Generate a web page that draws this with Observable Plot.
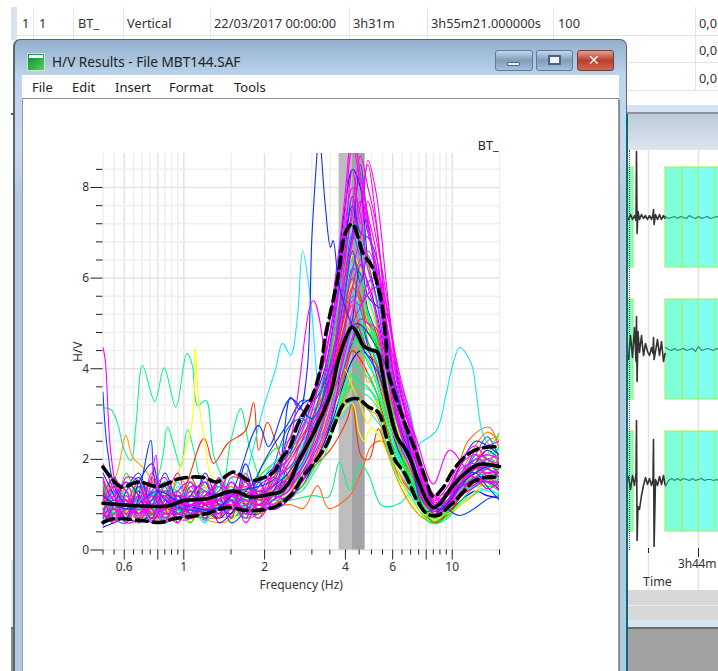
<!DOCTYPE html>
<html><head><meta charset="utf-8">
<script src="https://cdn.jsdelivr.net/npm/d3@7"></script>
<script src="https://cdn.jsdelivr.net/npm/@observablehq/plot@0.6"></script>
<style>
html,body{margin:0;padding:0;background:#fff;width:718px;height:671px;overflow:hidden;font-family:"Noto Sans",sans-serif;color:#222}
#page{position:relative;width:718px;height:671px;overflow:hidden}
.b{position:absolute;box-sizing:border-box}
.t{position:absolute;white-space:nowrap;font-size:12.8px;line-height:16px;color:#333}
svg{position:absolute;left:0;top:0;background:transparent}
</style></head><body><div id="page"></div>
<script>
// ---------- H/V chart data (frequency in Hz, H/V ratio) ----------
const gridF=[.5,.55,.61,.68,.76,.85,.95,1.06,1.2,1.35,1.5,1.7,1.9,2.15,2.45,2.75,3.05,3.35,3.65,3.95,4.25,4.55,4.85,5.2,5.7,6.3,7,7.8,8.6,9.6,10.8,12.2,13.5,15];
const violetA=[.9,1.3,.8,1,.7,.9,.9,1,.8,.9,1.1,.9,.8,1.2,1.4,1.7,2.2,2.7,3.4,4,4.6,5,4.5,3.9,3,2.2,1.7,1.05,.8,.9,1.25,1.45,1.65,1.55];
const violetB=[.55,1,1.5,1.2,.7,1.4,.6,1.2,1.5,.6,.8,1.3,1.5,.9,1.1,1.5,1.9,2.4,3.2,4.4,5.1,6.3,5.9,5.3,4.1,2.8,2.1,1.3,.85,1,1.4,1.5,1.5,1.35];
const blueA=[1.2,1.6,.9,1.4,.8,.9,.9,1.5,1,.9,1.3,1,1.5,1.8,2.1,2.8,3.4,4.5,5.7,7.4,8.4,8,6.4,5.6,4.3,2.9,2,1.3,.85,1.1,1.5,1.9,2.2,2];
const blueB=[.7,.8,1.1,.9,1.3,.7,1,.9,.8,1.2,1,1.3,1.1,1.3,1.6,1.9,2.6,3.1,3.9,5.2,6.2,6.1,5.3,4.8,3.7,2.5,1.9,1.1,.8,.9,1.3,1.6,1.6,1.3];
const blueC=[1,1.3,1.4,1.7,1,1.2,.8,1.1,1.3,1,.8,1.6,1,1.1,1.9,2.4,2.7,3.6,4.8,6,7,8.5,7.2,6.1,4.7,3.4,2.3,1.4,1,1.3,1.7,2,1.9,1.7];
const blueD=[.5,.6,.7,.6,.8,.9,.7,.8,.9,.7,.9,.8,.8,1,1.2,1.4,1.9,2.4,3,3.7,4.2,4.4,4.3,4.1,3.2,2.2,1.6,.95,.7,.8,1.1,1.3,1.2,1.15];
const blueE=[.9,1.1,1,.8,1.1,1.5,1.1,1,1.2,1.4,1.1,.9,1.2,1.4,1.7,2.2,3,3.8,5,6.4,7.8,7,6.9,6.5,4.9,3.2,2.1,1.2,.8,1.1,1.4,1.8,1.8,1.6];
const blueG=[1.7,1.2,.7,1.5,1.9,.9,1.2,.8,1.7,1,.8,1.9,1.2,1.3,2.6,3.2,3.4,4,5.2,6.8,7.6,6.6,5.6,5.4,5.2,3.7,2.6,1.6,1,1.3,1.9,2.4,2.3,2.1];
const blueH=[.8,.6,1.3,1.6,1,1.7,1,.7,1.2,1.2,.6,.9,1.7,2.3,2.8,3.3,3.3,3.7,4.5,5.5,6.6,5.9,6.5,5.9,4.7,3.3,2.4,1.4,.9,1,1.6,1.7,1.4,1.1];
const azureA=[.8,.7,.9,1.1,.7,1,1.2,.8,1,1,1.2,1.1,1,1.2,1.5,1.9,2.5,3.2,4.1,4.8,5.6,5.3,4.6,4.2,3.3,2.6,2,1.2,.9,1,1.6,1.7,2,1.9];
const azureB=[1.6,.7,.6,1.4,1.2,.6,.9,1.4,.7,1.5,.7,1.6,.8,1.8,2.7,2.9,2.7,3.2,4.4,5.8,7,6.5,7.2,5.9,4.5,3.2,2.4,1.5,1,1.1,1.7,2.1,2.5,2];
const cyanA=[1.1,.8,1.3,1,1.2,.9,1.1,1.2,.9,1.3,1.4,1,1.1,1.3,1.4,1.8,2.4,3,3.8,4.6,5,4.8,4.3,3.9,3,2.2,1.7,1,.75,.9,1.3,1.6,1.7,1.6];
const cyanB=[.9,1,.7,1.2,.8,1.1,.9,1.3,1.1,.8,1,1.2,.9,1.1,1.3,1.6,2.2,2.7,3.4,4.2,4.9,5.6,5.2,4.6,3.5,2.5,1.8,1.3,.95,1.1,1.5,1.7,1.8,2];
const cyanC=[1.4,1.2,1,.9,1,.7,1,.9,1.2,1.1,.9,1.3,1.2,1.5,1.7,2.3,2.9,3.5,4.4,5.4,6.3,6,5.6,5,3.8,2.7,2.1,1.3,.9,1.2,1.6,2,2.1,2.2];
const cyanD=[.6,1.3,1.1,.7,1.4,1.1,1.5,.7,1.3,.8,1.6,.8,1.4,1.9,2.2,2.6,3.2,3.9,5,6.3,7.2,6.9,6.2,5.5,4.4,3,2.2,1.4,.9,1.1,1.6,2.1,1.8,1.5];
const cyanE=[1.3,.7,.9,1.4,1.3,.6,1.4,1,.6,1.2,1.5,1.1,.8,1.2,2,2.7,3.1,3.6,4.6,5.1,5.7,5.2,4.4,4.3,3.1,2,1.3,.85,.62,.85,1.25,1.4,1.3,1.25];
const greenA=[.8,1,1.1,.7,.8,1.1,.7,.9,.8,1,1.2,.9,1.1,1,1.2,1.7,2.2,2.8,3.3,3.9,4.5,4.9,4.6,4.1,3.1,2.1,1.5,.9,.65,.8,1.2,1.5,1.4,1.5];
const greenB=[1.2,.7,.8,1.1,.7,.8,1.2,1,.9,.9,1,1,1.3,1.2,1.4,1.8,2.3,2.9,3.6,4.3,4.8,4.4,4.2,3.7,2.8,2,1.6,1,.7,.9,1.2,1.7,1.9,2.3];
const greenC=[.6,.9,.9,.8,1,.6,.8,1.1,1,.8,.9,.7,.9,1.1,1.1,1.4,1.8,2.3,2.9,3.4,3.9,3.7,3.6,3.3,2.6,1.9,1.4,.85,.6,.75,1.1,1.4,1.5,1.4];
const greenD=[1,1.1,1,1,.9,.9,1,.8,1.4,1.2,1.2,1.1,.8,1.5,1.6,2,2.5,3.1,3.8,4.4,5.2,5,4.9,4.4,3.4,2.3,1.7,1,.75,1,1.4,1.9,2,1.7];
const greenE=[1.5,.8,1.7,1,.7,1.5,.7,1.5,.8,1.6,.9,1.2,1.7,2.2,2.4,3,3.1,3.7,4.8,5.9,6.4,6,5.2,4.7,3.9,2.4,1.5,.9,.62,.85,1.3,1.7,2.1,2.6];
const greenF=[1.4,1.1,1.2,.6,1.1,1.5,.9,.6,1.5,1.1,.7,1,1.6,1.9,2.1,2.3,2.6,3,3.7,4.6,5.1,4.7,4.8,4.6,3.5,2.9,2.3,1.5,.95,1,1.5,1.8,1.5,1.3];
const springA=[.9,.8,.9,1.3,.9,1.2,.9,.7,1.1,1.1,.9,1.2,1.1,1.2,1.3,1.7,2.1,2.6,3.1,3.6,4.1,4,3.9,3.5,2.9,2.2,1.6,1,.7,.85,1.3,1.6,1.7,1.6];
const springB=[1.3,1,.7,.9,1.1,.8,.9,1.2,.8,1,1.1,.9,1,1.3,1.5,1.8,2.4,3,3.5,4.1,4.6,4.5,4.1,3.8,2.9,2.1,1.6,.95,.7,.95,1.35,1.55,1.85,1.75];
const springC=[1.1,.6,1.4,1.3,.6,1.3,1.3,.9,.7,1.4,1.3,.7,1.5,1.7,1.8,2.2,2.8,3.4,4.3,5.4,6.1,5.5,5.1,4.5,3.4,2.5,2.1,1.2,.8,.95,1.5,1.6,1.9,2.3];
const springD=[.7,1.3,1,1.3,.7,1.5,.7,1.3,.6,1.4,1.2,.7,1.3,1.1,1.2,1.3,1.7,2.1,2.8,3.5,3.9,3.5,3.4,3.2,2.3,1.6,1.2,.75,.58,.7,1.05,1.25,1.35,1.2];
const yellowA=[1,.7,1,.9,.7,1,1.1,.9,1,1.2,1.4,1,1.1,1.4,1.8,2.1,2.7,3.4,4.2,5,5.9,5.2,4.7,4,3.3,2.4,1.5,.9,.65,.9,1.3,1.5,1.6,1.9];
const yellowB=[.7,.8,.8,1,1,.9,.7,1,.9,.9,.8,1.1,1,1,1.3,1.6,2,2.6,3.3,4,3.6,3.2,2.8,3.3,2.4,1.7,1.1,.8,.7,.8,1,1.3,1.5,1.6];
const yellowC=[.9,1.5,.9,.6,1.5,1,.6,1.2,1.4,1.3,.6,1.4,1.1,1.5,1.9,2.6,3.3,3.9,4.7,5.6,6.5,6.2,5.5,4.9,3.7,2.6,1.9,1.3,.95,1,1.3,1.8,1.7,2.2];
const orangeA=[1,.9,1.4,1.1,.9,.8,1,1.1,1.2,.9,1.3,1.4,1.2,1.1,1.5,2,2.6,3.4,4.4,5.3,6.6,6,5.1,4.5,3.6,2.7,2,1.2,.85,1,1.5,1.9,2.4,2.5];
const orangeB=[.8,1.2,.8,.8,1.2,1,.8,.9,.7,1.1,1,.8,1.3,1.4,1.3,1.6,2.3,2.8,3.5,4.3,5,4.6,3.7,3.9,3,2.3,1.8,1.1,.75,.9,1.2,1.6,1.8,1.8];
const orangeC=[1.3,1.5,.6,1.6,.8,.6,1.6,1.3,.7,1.1,1.4,1,.7,1.6,2,2.5,3,3.7,4.9,6,7.3,7,6.4,5.1,4,2.9,2.3,1.4,1,1.2,1.7,2.3,2.6,2.4];
const orangeD=[1,1.6,1.1,.65,1.2,.9,1.5,.6,1.3,.7,1.1,.7,.8,1.2,1.4,1.4,1.8,2.2,2.7,3.3,3.7,3.4,3.1,3,2.2,1.5,1,.7,.6,.75,1,1.25,1.6,1.5];
const redA=[.9,.9,1.1,.9,1.1,1.3,.8,1,1.1,1,1.2,1.3,1,1.2,1.6,2.1,2.7,3.2,4,4.9,5.4,4.8,4.4,4.1,3.2,2.3,1.7,1.1,.8,1,1.4,1.7,1.7,1.6];
const redB=[1.1,1,.9,1.2,.8,1,1,.8,1.1,1.1,1.1,1.1,1.1,1,1.2,1.6,2,2.5,3.2,3.8,4.4,4.2,3.9,3.5,2.7,1.9,1.4,.85,.65,.8,1.2,1.5,1.6,1.7];
const redC=[.8,1.4,1.3,.7,1.6,.7,1,1.6,.9,.7,1.6,1.5,.9,1.3,1.7,2.4,2.9,3.3,4.1,5.2,6,5.6,4.8,4.6,3.5,2.4,1.5,.85,.6,.8,1.2,1.9,2.2,1.9];
const redD=[1.4,.6,1,1.5,.8,1.2,1.2,.7,.9,1.6,.9,1.5,.8,1.7,2.2,2.5,3,3.5,4.3,5.1,5.8,5.5,5,4.8,3.6,2.8,2.2,1.5,1.05,1.2,1.6,2.1,2,1.8];
const magentaA=[1.5,1.1,1,1.3,1,.9,1.1,1,1.2,1.5,1.2,1.1,1,1.4,1.9,2.4,3.2,4.4,5.9,7.6,9.2,8.3,7.4,6.6,4.6,3,2.1,1.3,.95,1.2,1.6,2,2.1,2];
const magentaB=[.8,.7,.9,.8,1.1,1.2,.9,1.2,1,1.1,1.5,1.2,1.3,1.2,1.6,2,2.6,3.5,4.6,6.2,7.6,8.7,8,7.2,5,3.2,2.2,1.2,.85,1.1,1.5,1.7,1.9,1.8];
const magentaC=[1.1,1.4,.8,.9,.8,1,1.3,.9,1.1,.9,1.2,1.4,1.1,1.5,1.8,2.2,2.9,3.9,5.1,6.6,8.4,7.2,8.6,7.9,5.8,3.5,2.4,1.4,1,1.3,1.9,2.1,1.8,1.7];
const magentaD=[.6,.8,.7,1,.7,.8,.8,.9,.9,1,1,.9,.9,1.1,1.3,1.8,2.3,3,3.9,4.9,5.8,6.4,5.8,5.2,3.9,2.7,2,1.2,.9,1,1.4,1.5,1.7,1.7];
const magentaE=[.9,.6,1.2,.7,.9,.7,1,.8,1.3,.8,.9,1,1.2,1,1.4,1.7,2,2.7,3.5,4.4,5.3,5.9,6.6,6.2,4.4,3.1,2.3,1.5,1.1,1.2,1.7,1.9,2,2.1];
const magentaF=[1.3,.9,.7,1,.6,1.1,.7,1,.8,1.2,1.3,.8,1.4,1.6,1.5,2.1,2.8,3.3,4.3,5.6,6.9,7.7,7,6.3,4.2,2.8,1.9,1.1,.8,.95,1.3,1.6,1.5,1.5];
const magentaG=[.7,1,.6,.7,1.2,.8,.8,.7,1,1.1,.9,1.1,.9,1.2,1.1,1.5,2.1,2.6,3.3,4,4.7,5.1,5,4.9,3.6,2.4,1.8,1.1,.8,.9,1.2,1.4,1.6,1.4];
const magentaH=[1,1.2,1.5,.8,1,1.3,1,1.3,1.1,1.3,1.7,1.5,1.2,1.7,2,2.6,3.4,4.2,5.4,7,8,7.4,6.2,5.6,4.1,2.9,2.2,1.6,1.2,1,1.4,1.6,1.8,1.9];
const magentaI=[.8,.9,.8,1.2,.9,.6,1.2,1.1,.9,.8,1.1,.8,1,.9,1.2,1.6,2.2,2.9,3.7,4.7,5.5,5.4,5.9,6,5,3.3,2.5,1.5,.9,1.05,1.5,1.8,1.7,1.8];
const magentaJ=[1.9,1.3,.6,1.1,1.5,.65,1.3,1.5,.65,1.6,1.1,.7,1.6,1.6,2.4,3,3.5,4.2,5.5,7.2,8.9,8.1,7.1,6.3,5.4,3.8,2.7,1.7,1.1,1.4,2,2.3,2,1.9];
const magentaK=[.7,1.5,1.3,.6,1.3,1.6,.7,.7,1.6,.7,1.5,1,.7,1.1,1.3,2.1,2.6,3.2,4.2,5.3,6.2,6.9,7.7,6.9,5.6,3.9,2.8,1.8,1.2,1.3,1.8,1.9,1.6,1.3];
const magentaL=[1.2,.65,1.6,1.5,.65,1.1,1.7,.8,1,1.5,.7,1.7,1,1.3,1.5,1.8,2.4,3.3,4.5,5.9,6.8,7.6,8.5,7.3,5.3,4,2.9,1.6,1.05,1.1,1.6,1.6,1.35,1.5];
const magentaM=[1.6,1.1,1.1,.8,1.7,.9,.6,1.4,1.3,.8,1.3,.6,1.2,1.8,2.2,2.7,3.3,4.3,5.3,6.4,7.4,8.2,7.3,6.1,5,3.6,2.6,1.7,1.15,1.2,1.5,2.2,2.3,2.4];

// Window curves that stand out from the bundle, each read at its own frequencies
const cyanPeakF=[.5,.6,.75,.9,1.1,1.4,1.63,1.77,1.98,2.2,2.33,2.5,2.65,2.77,2.97,3.17,3.37,3.83,4.4,5,5.6,6.5,7.5,8.6,10,12,15];
const cyanPeakV=[.9,1.1,.85,1,1.15,1,1.3,2,3.14,4,4.56,4.3,5.14,6.6,5.5,3.6,3,2.9,3.4,3,2.6,1.9,1.2,.85,1.2,1.8,1.7];
const bluePeakF=[.5,.62,.8,1,1.3,1.6,1.9,2.2,2.5,2.7,2.88,3,3.14,3.2,3.25,3.37,3.52,3.6,3.8,4.2,4.7,5.3,6,7,8,9,11,13,15];
const bluePeakV=[1.2,.9,1.3,1,.9,1.3,1.4,1.6,3.37,3.1,3.96,6.9,8.8,9.5,8.8,7.57,6.68,6.83,5.8,5,4.4,3.9,2.8,1.9,1.1,.9,1.5,1.8,1.9];
const cyanHumpF=[.5,.7,.95,1.3,1.8,2.4,3,3.6,4.2,4.8,5.4,6.19,6.85,7.47,7.58,8.74,9.5,10.06,10.66,11.8,12.3,13,14.2,15];
const cyanHumpV=[1,.8,1.1,1,1.2,1.3,2.3,3.6,4.6,4.8,4.6,3.8,3.23,2.28,2.35,2.64,3.45,4.1,4.47,4.1,3.45,2.57,2.2,2.1];
const springLowF=[.5,.535,.567,.6,.636,.664,.702,.78,.845,.934,1.026,1.077,1.09,1.125,1.21,1.31,1.63,2,2.5,3,3.6,4.2,5,6,7.5,8.6,10,12,15];
const springLowV=[3.14,3.1,2.79,2.2,1.97,2.79,4.07,3.28,4.02,3.15,4.34,4.07,3.74,3.19,3.3,1.97,1.1,1.2,1.5,2.3,3.4,3.6,3.5,2.2,1,.7,1.1,1.6,1.5];
const springRightF=[.5,.7,1,1.4,2,2.5,3.04,3.46,3.8,4.15,4.54,4.9,5.47,6.39,7,7.6,8.25,9,10,11.5,13,15];
const springRightV=[.9,.7,.8,.9,1,1.1,1.2,1.17,1.94,1.31,1.9,1.64,.98,1.03,1.25,.95,.6,.65,1,1.5,1.6,1.5];
const orangeLowF=[.5,.8,1.2,1.7,2.2,2.5,2.79,3.15,3.46,4.15,4.6,5,5.5,6.2,7.2,8.2,9.5,11.5,13.75,15];
const orangeLowV=[.8,.9,.7,.8,.95,1,.92,1.42,.92,1.2,1.75,2.3,2.4,1.8,1.2,.7,1,2.42,2.71,2.2];
const redMidF=[.5,.9,1.19,1.29,1.457,1.7,1.82,1.9,2.05,2.23,2.6,3,3.5,4.05,4.24,4.6,4.9,5.3,5.7,6.4,7.4,8.2,10,13,15];
const redMidV=[.8,.9,2.46,1.91,2.35,2.64,3.26,2.2,2.82,2.27,1.4,1.8,2.2,2.86,3.23,2.05,2,2.68,2.2,1.6,1.1,.75,1.1,1.5,1.7];
const yellowSpikeF=[.5,.8,1.06,1.1,1.136,1.19,1.3,1.7,2.2,3,3.7,4.24,4.5,4.7,5,5.8,6.8,8,9.5,12,15];
const yellowSpikeV=[.8,1,2.64,4.47,3.3,2.49,1.5,1.1,1.3,1.9,2.9,3.23,2.6,2.4,2.7,2.1,1.1,.7,.95,1.6,2];
const magentaLeftF=[.5,.51,.535,.57,.65,.73,.787,.83,1,1.5,2.2,3.04,3.6,4.4,5.2,6,7.2,8.49,9.79,12,15];
const magentaLeftV=[4.47,4.18,2.13,1.3,1,1.2,2.09,1.2,1,1.2,1.5,5.5,3.6,5.2,5.8,3.5,2.6,1.46,2.2,1.6,1.5];
const blueLeftF=[.5,.52,.56,.65,.7,.754,.8,1,1.4,1.9,2.07,2.5,3,3.6,4.4,5.2,6.4,8,9,10.66,13.75,15];
const blueLeftV=[3.48,2.2,1.3,.9,1.6,2.42,1.3,.9,1,2.75,2.28,3.34,2.9,4,5,4.5,3.2,.85,1,.76,1.14,1.2];
const springMidF=[.5,.7,.82,.87,.918,.975,1.03,1.09,1.156,1.35,1.495,1.63,1.77,2.1,2.6,3.1,3.8,4.6,5.5,7,8.5,11,15];
const springMidV=[1,.9,1.83,2.71,2.3,1.83,2.66,2.2,1.55,1.1,2.4,3.12,2.2,1.2,1.4,2.2,3.1,3.9,3.2,1.6,.75,1.4,1.7];
const orangeLeftF=[.5,.564,.608,.645,.71,.9,1.4,1.5,2,3,4,5,6.5,8.5,11,15];
const orangeLeftV=[1.1,1.7,2.53,2.05,1.8,1,.6,.7,1.1,2.4,4.3,4.4,2.3,.7,1.6,2];

// Statistics curves: mean and mean plus or minus one standard deviation
const meanF=[.5,.583,.71,.872,1,1.217,1.534,1.773,2.16,2.29,2.5,2.65,3.04,3.52,3.73,3.99,4.24,4.46,4.66,4.95,5.25,5.47,5.71,6.24,6.8,7.4,8.05,8.49,8.99,10.06,11.3,12.63,15];
const meanV=[1.03,1,.97,.97,1.09,1.13,1.3,1.17,1.25,1.28,1.55,1.91,2.57,3.45,4.1,4.65,4.92,4.75,4.51,4.42,4.37,3.96,3.37,2.49,2.16,1.6,1.09,.94,1.02,1.42,1.72,1.89,1.84];
const upperF=[.5,.535,.583,.68,.8,.97,1.19,1.32,1.534,1.77,2.16,2.29,2.5,2.65,2.97,3.23,3.37,3.6,3.79,3.99,4.24,4.46,4.66,5,5.25,5.47,5.67,5.76,6.6,7.25,7.9,8.49,9.2,10.06,11.3,12.63,15];
const upperV=[1.83,1.6,1.39,1.5,1.4,1.58,1.6,1.5,1.72,1.53,1.72,1.98,2.3,2.75,3.3,4,4.73,5.5,6.17,6.98,7.2,6.9,6.54,6.28,5.88,5.44,4.56,3.96,2.86,2.24,1.62,1.18,1.36,1.75,2.09,2.24,2.28];
const lowerF=[.5,.55,.692,.82,.918,1.089,1.26,1.457,1.73,2.16,2.5,2.79,3.04,3.42,3.67,3.99,4.42,4.9,5.3,5.71,6.13,6.67,7.4,8.05,8.8,9.79,10.9,11.9,13.3,15];
const lowerV=[.61,.69,.65,.61,.69,.75,.83,.94,.87,.94,1.2,1.64,1.9,2.35,2.82,3.26,3.34,3.15,3.04,2.46,1.98,1.68,1.09,.8,.76,.98,1.25,1.5,1.6,1.6];

// Selected peak frequency: lower bound, average, upper bound
const peakBand=[3.79,4.25,4.74];

// Axis ticks
const xMajor=[.6,.8,1,2,4,6,8,10];
const xMinor=[.5,.55,.65,.7,.75,.85,.9,.95,1.5,2.5,3,3.5,4.5,5,5.5,6.5,7,7.5,8.5,9,9.5,15];
const yMajor=[0,2,4,6,8];
const yMinor=[.4,.8,1.2,1.6,2.4,2.8,3.2,3.6,4.4,4.8,5.2,5.6,6.4,6.8,7.2,7.6,8.4];

// Background signal viewer: time in viewer units, amplitude about each channel centre
const channelCentre=[217,349,481];
const windowStart=[628,665,682,698,715];
const windowEnd=[633,682,698,715,730];
const windowFill=["#7fffc8","#7fffd8","#7fffe8","#7ffff0","#7ffff0"];
const traceT=[628,630,632,634,635.5,636,636.6,637.5,639,641,643,645,647,649,651,652.5,653,653.6,655,657,659,661,663,664.5];
const traceA=[-2,3,-2,2,-3,66,-16,6,-2,3,-1,2,-2,2,-2,3,8,-7,3,-2,3,-2,2,-1];
const traceB=[-10,14,-8,22,-12,33,-32,18,-3,14,-6,6,-2,-6,2,-4,12,-10,-2,10,-6,8,-12,-4];
const traceC=[5,-8,6,-4,8,61,-59,-25,-28,-14,-4,4,-3,3,-4,2,42,-65,2,-4,5,-3,6,-3];
const quietT=[665,668,671,674,677,680,683,686,689,692,695,698,701,704,707,710,713,716,718];
const quietA=[1,-1,0,1,-1,1,0,-1,2,0,-1,1,-1,0,1,-1,0,1,0];
const quietB=[2,0,-1,1,-1,0,1,-1,0,1,-2,3,-1,0,1,0,-1,1,0];
const quietC=[-5,1,3,1,3,1,3,2,1,3,1,2,3,1,2,2,1,2,1];

// ---------- page furniture ----------
const page=document.getElementById("page");
function box(x,y,w,h,bg,extra){const d=document.createElement("div");d.className="b";d.style.cssText=`left:${x}px;top:${y}px;width:${w}px;height:${h}px;background:${bg};${extra||""}`;page.appendChild(d);return d}
function txt(x,y,s,extra){const d=document.createElement("div");d.className="t";d.textContent=s;d.style.cssText=`left:${x}px;top:${y-8}px;${extra||""}`;page.appendChild(d);return d}

// table behind the window
box(11,7,6,33,"#d8e2ee");
[33,73,123,210,349,427,553,695].forEach(x=>box(x,7,1,84,"#e6e6e6"));
[35,62,90].forEach(y=>box(17,y,701,1,"#e3e3e3"));
[["1",22],["1",39],["BT_",78],["Vertical",127],["22/03/2017 00:00:00",214],["3h31m",353],["3h55m21.000000s",431],["100",558],["0,0",699]].forEach(([s,x])=>txt(x,22.5,s));
txt(699,49.5,"0,0");txt(699,77.5,"0,0");
box(11,113,3,2,"#555");box(11,627,3,44,"#8a8a8a");box(11,627,3,2,"#666");box(11,560,2,67,"#dfe9f3");

// signal viewer panel on the right
box(627,105,91,8,"#d3e3f2");box(627,112,91,2,"#8b9197");
box(627,114,91,36,"#ccd","background:linear-gradient(#bccbd9,#dbe6ef)");
box(627,590,91,30,"#d8d8d8");box(627,605,91,1,"#eeeeee");box(627,620,91,7,"#d7e4f1");box(627,627,91,44,"#a2a2a2");box(627,627,91,2,"#6f6f6f");

// window frame
box(13,39,614,640,"#b3cbe3","border:2px solid #5f6469;border-width:1px 1px 0 2px;border-radius:7px 7px 0 0;background:linear-gradient(#93b0cd 0,#bcd4ec 36px,#c6daec 110px,#b2cbe4 155px)");
box(22,75,597,600,"#fff");
box(22,98,597,1,"#8a8f94");box(22,98,1,580,"#9a9ea2");box(618,98,1,580,"#9a9ea2");
box(619,100,1,571,"#7f8388");
box(626,114,2,557,"#0a6a75");
box(27,53,18,18,"#1f9a3a","border:1px solid #c8e6c8;background:linear-gradient(135deg,#0e8a30,#52cf60)");
box(29,55,14,3,"#ffffff");
txt(52,62,"H/V Results - File MBT144.SAF","font-size:13.6px;color:#222");
box(495,50,38,21,"","border:1px solid #5d7a99;border-radius:3px;background:linear-gradient(#c5d7ea,#7f9dbd 50%,#a6c0da)");
box(536,50,37,21,"","border:1px solid #5d7a99;border-radius:3px;background:linear-gradient(#c5d7ea,#7f9dbd 50%,#a6c0da)");
box(577,50,37,21,"","border:1px solid #7a3b33;border-radius:3px;background:linear-gradient(#e3a090,#b8402d 50%,#cf6a50)");
box(507,62,13,4,"#eef2f6","border:1px solid #4e6379;border-radius:1px");
box(548,55,13,10,"#eef2f6","border:2px solid #4e6379;border-radius:1px");
txt(588,60,"✕","font:bold 14px 'DejaVu Sans';color:#f4f4f4");
[["File",32],["Edit",72],["Insert",115],["Format",169],["Tools",234]].forEach(([s,x])=>txt(x,87,s,"font-size:13px;color:#222"));

// ---------- signal viewer drawn with Plot ----------
const rows=(xs,ys,c)=>xs.map((x,i)=>({x,y:channelCentre[c]-ys[i]}));
const viewer=Plot.plot({width:90,height:440,margin:0,marginLeft:0,x:{domain:[628,718],axis:null},y:{domain:[590,150],axis:null},
 marks:[
  Plot.ruleX([648,698],{stroke:"#e4e4e4",strokeWidth:1.5}),
  Plot.rect(channelCentre.flatMap(c=>windowStart.map((s,i)=>({x1:s,x2:windowEnd[i],y1:c-50,y2:c+50,f:windowFill[i]}))),{x1:"x1",x2:"x2",y1:"y1",y2:"y2",fill:"f",stroke:"#a4f27c",strokeWidth:1.3}),
  Plot.ruleX([648],{y1:548,y2:553,stroke:"#222"}),
  Plot.ruleX([698],{y1:548,y2:557,stroke:"#222"}),
  ...[traceA,traceB,traceC].map((a,c)=>Plot.line(rows(traceT,a,c),{x:"x",y:"y",stroke:"#333",strokeWidth:1.6})),
  ...[quietA,quietB,quietC].map((a,c)=>Plot.line(rows(quietT,a,c),{x:"x",y:"y",stroke:"#2a8c70",strokeWidth:1.2}))
 ]});
viewer.style.left="628px";viewer.style.top="150px";page.appendChild(viewer);
box(629,150,0,400,"none","border-left:1.5px dotted #2f3fff");
txt(678,564,"3h44m","font-size:12px;letter-spacing:-.2px;");txt(643,582,"Time","font-size:12.5px;");

// ---------- the H/V chart ----------
const bundle=[[blueD,"#0000ff"],[greenA,"#00ff00"],[orangeA,"#ff8000"],[cyanA,"#00ffff"],[redB,"#ff2000"],[springA,"#00ff80"],[orangeD,"#ff9000"],[blueB,"#2040ff"],[yellowA,"#ffff00"],[springD,"#00ff90"],[greenB,"#20ff20"],[azureA,"#0090ff"],[violetA,"#8000ff"],[cyanE,"#00ffff"],[cyanB,"#00e0ff"],[orangeB,"#ffa000"],[greenC,"#00ff40"],[redC,"#ff2000"],[blueA,"#0020ff"],[redA,"#ff3000"],[yellowB,"#ffee00"],[greenF,"#00ff00"],[springB,"#00ffa0"],[blueC,"#3030ff"],[greenD,"#40ff00"],[yellowC,"#ffff00"],[cyanC,"#00ffff"],[orangeC,"#ff8000"],[blueE,"#1040ff"],[springC,"#00ff70"],[azureB,"#0080ff"],[redD,"#ff4000"],[greenE,"#00ff20"],[cyanD,"#00f0ff"],[violetB,"#7000ff"],[blueG,"#2020ff"],[blueH,"#0040ff"],
 [magentaG,"#ff00ff"],[magentaD,"#ff00e0"],[magentaE,"#ff20ff"],[magentaI,"#ff00ff"],[magentaF,"#e000ff"],[magentaK,"#ff00ff"],[magentaH,"#ff00ff"],[magentaB,"#ff00e0"],[magentaM,"#ff00ff"],[magentaL,"#ff00f0"],[magentaA,"#ff00ff"],[magentaJ,"#ff00ff"],[magentaC,"#ff00ff"]];
const singles=[[springLowF,springLowV,"#10f0a0"],[springMidF,springMidV,"#00ff80"],[orangeLeftF,orangeLeftV,"#ffa000"],[orangeLowF,orangeLowV,"#ff6a10"],[redMidF,redMidV,"#ff3000"],[yellowSpikeF,yellowSpikeV,"#ffff00"],[cyanPeakF,cyanPeakV,"#10e8ff"],[cyanHumpF,cyanHumpV,"#20e0ff"],[springRightF,springRightV,"#10f090"],[blueLeftF,blueLeftV,"#1040ff"],[bluePeakF,bluePeakV,"#1030ff"],[magentaLeftF,magentaLeftV,"#ff00ff"]];
const pairs=(xs,ys)=>xs.map((f,i)=>({f,v:ys[i]}));
const thin={x:"f",y:"v",strokeWidth:1.1,curve:"catmull-rom",clip:true};
const fnt='"Noto Sans",sans-serif';
const chart=Plot.plot({width:718,height:671,marginLeft:102.5,marginRight:219,marginTop:153,marginBottom:121.5,
 style:{background:"transparent",fontFamily:fnt,fontSize:"12px",color:"#333"},
 x:{type:"log",domain:[.5,15]},y:{domain:[0,8.75]},
 marks:[
  Plot.ruleX(xMinor,{stroke:"#eeeeee",strokeWidth:1.5}),
  Plot.ruleX(xMajor,{stroke:"#e3e3e3",strokeWidth:1.5}),
  Plot.ruleY(yMinor,{stroke:"#f0f0f0",strokeWidth:1.5}),
  Plot.ruleY(yMajor,{stroke:"#e3e3e3",strokeWidth:1.5}),
  Plot.rectX([{a:peakBand[0],b:peakBand[1]}],{x1:"a",x2:"b",fill:"#bdbdbd"}),
  Plot.rectX([{a:peakBand[1],b:peakBand[2]}],{x1:"a",x2:"b",fill:"#a3a3a8"}),
  ...singles.slice(0,9).map(([x,y,c])=>Plot.line(pairs(x,y),{...thin,stroke:c})),
  ...bundle.map(([v,c])=>Plot.line(pairs(gridF,v),{...thin,stroke:c})),
  ...singles.slice(9).map(([x,y,c])=>Plot.line(pairs(x,y),{...thin,stroke:c})),
  Plot.line(pairs(upperF,upperV),{x:"f",y:"v",stroke:"#000",strokeWidth:3.6,strokeDasharray:"11,6",curve:"catmull-rom"}),
  Plot.line(pairs(lowerF,lowerV),{x:"f",y:"v",stroke:"#000",strokeWidth:3.6,strokeDasharray:"11,6",curve:"catmull-rom"}),
  Plot.line(pairs(meanF,meanV),{x:"f",y:"v",stroke:"#000",strokeWidth:3.6,curve:"catmull-rom"}),
  Plot.axisX({ticks:xMinor,tickSize:5,tickFormat:()=>"",label:null,stroke:"#222"}),
  Plot.axisX({ticks:xMajor,tickSize:10,tickPadding:2,tickFormat:d=>String(d),label:"Frequency (Hz)",labelAnchor:"center",labelArrow:"none",labelOffset:39,stroke:"#222",fill:"#333"}),
  Plot.axisY({ticks:yMinor,tickSize:6.5,tickFormat:()=>"",label:null,stroke:"#222"}),
  Plot.axisY({ticks:yMajor,tickSize:12,tickPadding:2,tickFormat:d=>String(d),label:"H/V",labelAnchor:"center",labelArrow:"none",labelOffset:30,stroke:"#222",fill:"#333"}),
  Plot.text(["BT_"],{frameAnchor:"top-right",dy:-12,dx:-1,fill:"#222",fontSize:12.5})
 ]});
page.appendChild(chart);
</script></body></html>
